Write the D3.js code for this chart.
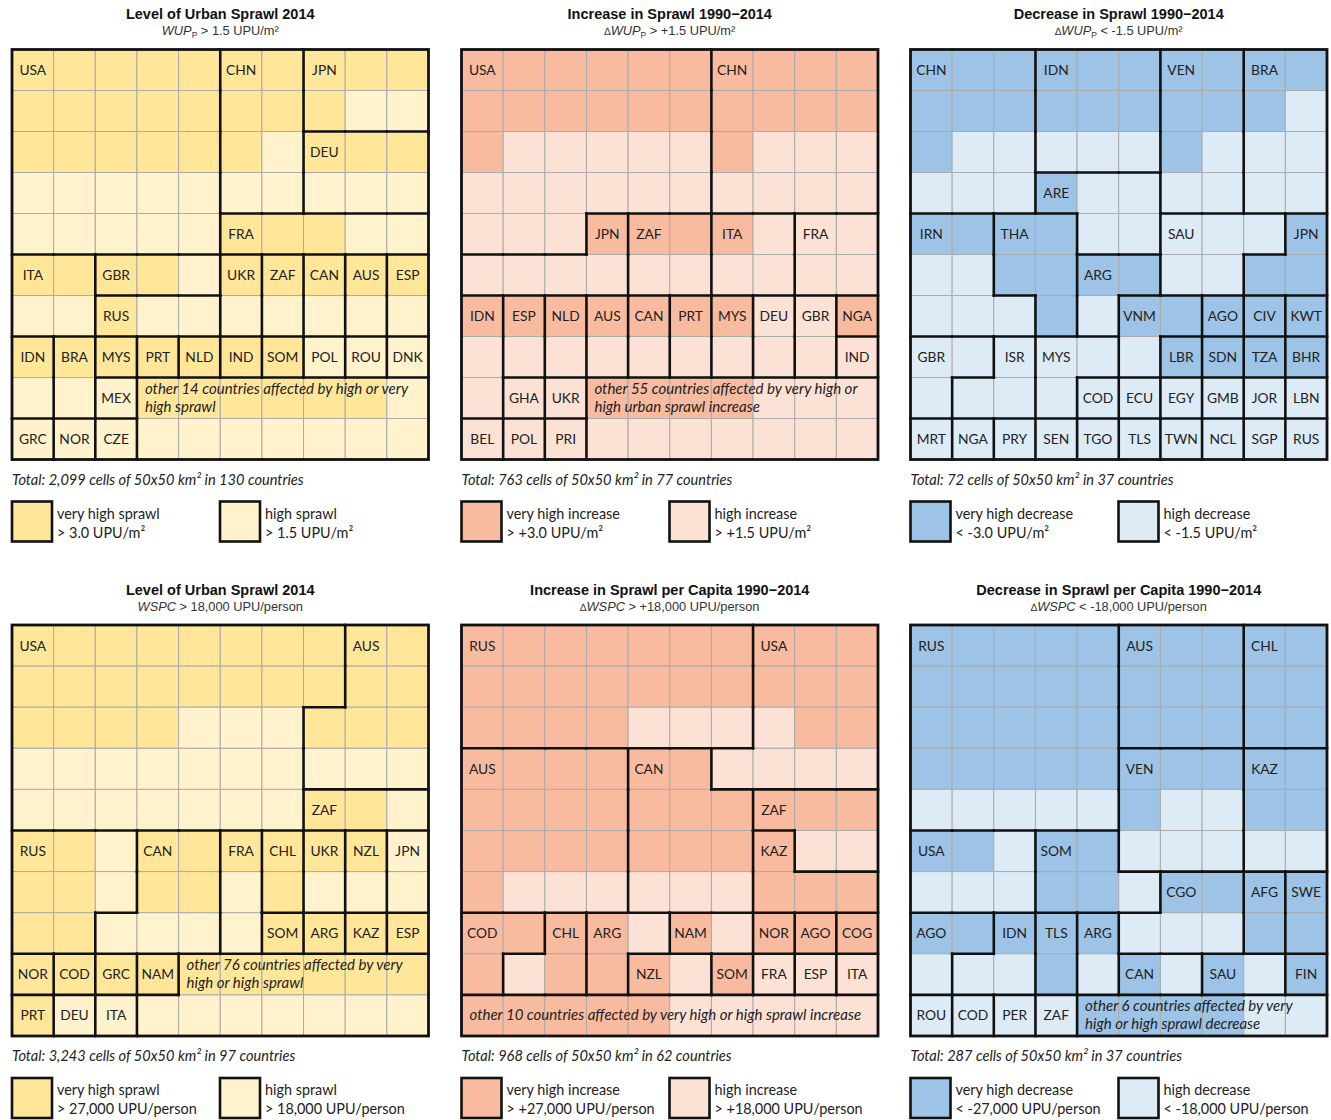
<!DOCTYPE html>
<html>
<head>
<meta charset="utf-8">
<script src="https://cdn.jsdelivr.net/npm/d3@7"></script>
<style>
  body { margin: 0; background: #fff; }
</style>
</head>
<body>
<div id="chart"></div>
<script>
// six 10x10 waffle grids: urban sprawl level / increase / decrease
// each grid cell carries a country code and a level (V = very high, H = high)

const codesWUP = [
  "USA USA USA USA USA CHN CHN JPN JPN JPN",
  "USA USA USA USA USA CHN CHN JPN JPN JPN",
  "USA USA USA USA USA CHN CHN DEU DEU DEU",
  "USA USA USA USA USA CHN CHN DEU DEU DEU",
  "USA USA USA USA USA FRA FRA FRA FRA FRA",
  "ITA ITA GBR GBR GBR UKR ZAF CAN AUS ESP",
  "ITA ITA RUS RUS RUS UKR ZAF CAN AUS ESP",
  "IDN BRA MYS PRT NLD IND SOM POL ROU DNK",
  "IDN BRA MEX OTH OTH OTH OTH OTH OTH OTH",
  "GRC NOR CZE OTH OTH OTH OTH OTH OTH OTH"
];
const levelsWUP = [
  "VVVVVVVVVV", "VVVVVVVVHH", "VVVVVVHVVV", "HHHHHHHHHH", "HHHHHVVVHH",
  "VVVVHVVVVV", "HHVHHHHHHH", "VVVVVVVHHH", "HHHVVVVVVH", "HHHHHHHHHH"
];

const codesIncWUP = [
  "USA USA USA USA USA USA CHN CHN CHN CHN",
  "USA USA USA USA USA USA CHN CHN CHN CHN",
  "USA USA USA USA USA USA CHN CHN CHN CHN",
  "USA USA USA USA USA USA CHN CHN CHN CHN",
  "USA USA USA JPN ZAF ZAF ITA ITA FRA FRA",
  "JPN JPN JPN JPN ZAF ZAF ITA ITA FRA FRA",
  "IDN ESP NLD AUS CAN PRT MYS DEU GBR NGA",
  "IDN ESP NLD AUS CAN PRT MYS DEU GBR IND",
  "IDN GHA UKR OTH OTH OTH OTH OTH OTH OTH",
  "BEL POL PRI OTH OTH OTH OTH OTH OTH OTH"
];
const levelsIncWUP = [
  "VVVVVVVVVV", "VVVVVVVVVV", "VHHHHHVHHH", "HHHHHHHHHH", "HHHVVVVHHH",
  "HHHHHHHHHH", "VVVVVVVHHV", "HHHHHHHHHH", "HHHVVVVHHH", "HHHHHHHHHH"
];

const codesDecWUP = [
  "CHN CHN CHN IDN IDN IDN VEN VEN BRA BRA",
  "CHN CHN CHN IDN IDN IDN VEN VEN BRA BRA",
  "CHN CHN CHN IDN IDN IDN VEN VEN BRA BRA",
  "CHN CHN CHN ARE ARE ARE VEN VEN BRA BRA",
  "IRN IRN THA THA ARE ARE SAU SAU SAU JPN",
  "IRN IRN THA THA ARG ARG SAU SAU JPN JPN",
  "IRN IRN IRN THA ARG VNM VNM AGO CIV KWT",
  "GBR GBR ISR MYS MYS VNM LBR SDN TZA BHR",
  "GBR ISR ISR MYS COD ECU EGY GMB JOR LBN",
  "MRT NGA PRY SEN TGO TLS TWN NCL SGP RUS"
];
const levelsDecWUP = [
  "VVVVVVVVVV", "VVVVVVVVVH", "VHHHHHVHHH", "HHHVHHHHHH", "VVVVHHHHHV",
  "HHVVVVHHVV", "HHHVHVVVVV", "HHHHHHVVVV", "HHHHHHHHHH", "HHHHHHHHHH"
];

const codesWSPC = [
  "USA USA USA USA USA USA USA USA AUS AUS",
  "USA USA USA USA USA USA USA USA AUS AUS",
  "USA USA USA USA USA USA USA AUS AUS AUS",
  "USA USA USA USA USA USA USA AUS AUS AUS",
  "USA USA USA USA USA USA USA ZAF ZAF ZAF",
  "RUS RUS RUS CAN CAN FRA CHL UKR NZL JPN",
  "RUS RUS RUS CAN CAN FRA CHL UKR NZL JPN",
  "RUS RUS CAN CAN CAN FRA SOM ARG KAZ ESP",
  "NOR COD GRC NAM OTH OTH OTH OTH OTH OTH",
  "PRT DEU ITA OTH OTH OTH OTH OTH OTH OTH"
];
const levelsWSPC = [
  "VVVVVVVVVV", "VVVVVVVVVV", "VVVVHHHVVV", "HHHHHHHHHH", "HHHHHHHVVH",
  "VVHVVVVVVH", "VVHVVHVHHH", "VVHHHHVVVV", "VVVVVVVVVV", "VHHHHHHHHH"
];

const codesIncWSPC = [
  "RUS RUS RUS RUS RUS RUS RUS USA USA USA",
  "RUS RUS RUS RUS RUS RUS RUS USA USA USA",
  "RUS RUS RUS RUS RUS RUS RUS USA USA USA",
  "AUS AUS AUS AUS CAN CAN USA USA USA USA",
  "AUS AUS AUS AUS CAN CAN CAN ZAF ZAF ZAF",
  "AUS AUS AUS AUS CAN CAN CAN KAZ ZAF ZAF",
  "AUS AUS AUS AUS CAN CAN CAN KAZ KAZ KAZ",
  "COD COD CHL ARG ARG NAM NAM NOR AGO COG",
  "COD CHL CHL ARG NZL NZL SOM FRA ESP ITA",
  "OTH OTH OTH OTH OTH OTH OTH OTH OTH OTH"
];
const levelsIncWSPC = [
  "VVVVVVVVVV", "VVVVVVVVVV", "VVVVHHHHVV", "VVVVVVHHHH", "VVVVVVVVVV",
  "VVVVVVVVHH", "VHHHHHHVVV", "VVVVHVHVVV", "VHVVVHVHHH", "VVVVVHHHHH"
];

const codesDecWSPC = [
  "RUS RUS RUS RUS RUS AUS AUS AUS CHL CHL",
  "RUS RUS RUS RUS RUS AUS AUS AUS CHL CHL",
  "RUS RUS RUS RUS RUS AUS AUS AUS CHL CHL",
  "RUS RUS RUS RUS RUS VEN VEN VEN KAZ KAZ",
  "RUS RUS RUS RUS RUS VEN VEN VEN KAZ KAZ",
  "USA USA USA SOM SOM VEN VEN VEN KAZ KAZ",
  "USA USA USA SOM SOM SOM CGO CGO AFG SWE",
  "AGO AGO IDN TLS ARG CGO CGO CGO AFG SWE",
  "AGO IDN IDN TLS ARG CAN CAN SAU SAU FIN",
  "ROU COD PER ZAF OTH OTH OTH OTH OTH OTH"
];
const levelsDecWSPC = [
  "VVVVVVVVVV", "VVVVVVVVVV", "VVVVVVVVVV", "VVVVVVVVVV", "HHHHHVHHVV",
  "VVHVVHHHHH", "HHHVVHVVVV", "VVVVVHHHVV", "HHHVHVHVHV", "HHHHVVVVHH"
];

const titles = [
  "Level of Urban Sprawl 2014", "Increase in Sprawl 1990\u22122014", "Decrease in Sprawl 1990\u22122014",
  "Level of Urban Sprawl 2014", "Increase in Sprawl per Capita 1990\u22122014", "Decrease in Sprawl per Capita 1990\u22122014"
];
// subtitle parts: delta sign, italic metric, subscript, rest
const subtitles = [
  ["", "WUP", "P", " > 1.5 UPU/m\u00b2"],
  ["\u2206", "WUP", "P", " > +1.5 UPU/m\u00b2"],
  ["\u2206", "WUP", "P", " < -1.5 UPU/m\u00b2"],
  ["", "WSPC", "", " > 18,000 UPU/person"],
  ["\u2206", "WSPC", "", " > +18,000 UPU/person"],
  ["\u2206", "WSPC", "", " < -18,000 UPU/person"]
];
const otherLabels = [
  ["other 14 countries affected by high or very", "high sprawl"],
  ["other 55 countries affected by very high or", "high urban sprawl increase"],
  [],
  ["other 76 countries affected by very", "high or high sprawl"],
  ["other 10 countries affected by very high or high sprawl increase"],
  ["other 6 countries affected by very", "high or high sprawl decrease"]
];
const totals = [
  "Total: 2,099 cells of 50x50 km\u00b2 in 130 countries",
  "Total: 763 cells of 50x50 km\u00b2 in 77 countries",
  "Total: 72 cells of 50x50 km\u00b2 in 37 countries",
  "Total: 3,243 cells of 50x50 km\u00b2 in 97 countries",
  "Total: 968 cells of 50x50 km\u00b2 in 62 countries",
  "Total: 287 cells of 50x50 km\u00b2 in 37 countries"
];
const legendVery = [
  ["very high sprawl", "> 3.0 UPU/m\u00b2"],
  ["very high increase", "> +3.0 UPU/m\u00b2"],
  ["very high decrease", "< -3.0 UPU/m\u00b2"],
  ["very high sprawl", "> 27,000 UPU/person"],
  ["very high increase", "> +27,000 UPU/person"],
  ["very high decrease", "< -27,000 UPU/person"]
];
const legendHigh = [
  ["high sprawl", "> 1.5 UPU/m\u00b2"],
  ["high increase", "> +1.5 UPU/m\u00b2"],
  ["high decrease", "< -1.5 UPU/m\u00b2"],
  ["high sprawl", "> 18,000 UPU/person"],
  ["high increase", "> +18,000 UPU/person"],
  ["high decrease", "< -18,000 UPU/person"]
];

const yellow = ["#FFE699", "#FFF2CC"];
const salmon = ["#F8BBA0", "#FCE1D5"];
const blue = ["#9DC3E6", "#DDEBF7"];

const allCodes = [codesWUP, codesIncWUP, codesDecWUP, codesWSPC, codesIncWSPC, codesDecWSPC];
const allLevels = [levelsWUP, levelsIncWUP, levelsDecWUP, levelsWSPC, levelsIncWSPC, levelsDecWSPC];
const palettes = [yellow, salmon, blue, yellow, salmon, blue];

// grid boxes on the page
const layout = [
  {x0: 12, x1: 428.5, y0: 49.5, y1: 459.5},
  {x0: 461.5, x1: 878, y0: 49.5, y1: 459.5},
  {x0: 910.5, x1: 1327, y0: 49.5, y1: 459.5},
  {x0: 12, x1: 428.5, y0: 625, y1: 1036},
  {x0: 461.5, x1: 878, y0: 625, y1: 1036},
  {x0: 910.5, x1: 1327, y0: 625, y1: 1036}
];

const labelFont = "Lato, 'Open Sans', sans-serif";
const titleFont = "'Liberation Sans', Arial, sans-serif";

const svg = d3.select("#chart").append("svg")
  .attr("width", 1331)
  .attr("height", 1120);

function drawPanel(i) {
  let L = layout[i];
  let g = svg.append("g");
  let grid = allCodes[i].map(r => r.split(" "));
  let levels = allLevels[i];

  let x = d3.scaleBand().domain(d3.range(10)).range([L.x0, L.x1]);
  let y = d3.scaleBand().domain(d3.range(10)).range([L.y0, L.y1]);
  let color = d3.scaleOrdinal().domain(["V", "H"]).range(palettes[i]);
  let bw = x.bandwidth(), bh = y.bandwidth();

  let cells = [];
  grid.forEach((row, r) => row.forEach((code, c) => {
    cells.push({r: r, c: c, code: code, level: levels[r][c]});
  }));

  g.selectAll("rect.cell")
    .data(cells)
    .join("rect")
    .attr("class", "cell")
    .attr("x", d => x(d.c))
    .attr("y", d => y(d.r))
    .attr("width", bw)
    .attr("height", bh)
    .attr("fill", d => color(d.level))
    .attr("stroke", "#ABABAB")
    .attr("stroke-width", 1);

  // thick lines wherever the country changes between neighbours
  let segs = [];
  cells.forEach(d => {
    if (d.c < 9 && grid[d.r][d.c + 1] !== d.code) {
      segs.push([x(d.c) + bw, y(d.r), x(d.c) + bw, y(d.r) + bh]);
    }
    if (d.r < 9 && grid[d.r + 1][d.c] !== d.code) {
      segs.push([x(d.c), y(d.r) + bh, x(d.c) + bw, y(d.r) + bh]);
    }
  });

  g.selectAll("line.border")
    .data(segs)
    .join("line")
    .attr("class", "border")
    .attr("x1", d => d[0]).attr("y1", d => d[1])
    .attr("x2", d => d[2]).attr("y2", d => d[3])
    .attr("stroke", "#111")
    .attr("stroke-width", 2.6)
    .attr("stroke-linecap", "square");

  g.append("rect")
    .attr("x", L.x0).attr("y", L.y0)
    .attr("width", L.x1 - L.x0).attr("height", L.y1 - L.y0)
    .attr("fill", "none")
    .attr("stroke", "#111")
    .attr("stroke-width", 2.8);

  // country labels on the first cell of each country
  let seen = new Set();
  let firsts = cells.filter(d => {
    if (seen.has(d.code)) return false;
    seen.add(d.code);
    return true;
  });

  g.selectAll("text.country")
    .data(firsts.filter(d => d.code !== "OTH"))
    .join("text")
    .attr("class", "country")
    .attr("x", d => x(d.c) + bw / 2)
    .attr("y", d => y(d.r) + bh / 2 + 5)
    .attr("text-anchor", "middle")
    .style("font-family", labelFont)
    .style("font-size", "13.8px")
    .style("fill", "#222")
    .text(d => d.code);

  let other = firsts.find(d => d.code === "OTH");
  if (other) {
    let lines = otherLabels[i];
    let t = g.append("text")
      .style("font-family", labelFont)
      .style("font-style", "italic")
      .style("font-size", "15px")
      .style("fill", "#222");
    lines.forEach((line, k) => {
      let base = lines.length === 1 ? y(other.r) + bh / 2 + 5 : y(other.r) + 16.5 + k * 17.5;
      t.append("tspan").attr("x", x(other.c) + 8).attr("y", base).text(line);
    });
  }

  // title and subtitle
  let cx = (L.x0 + L.x1) / 2;
  g.append("text")
    .attr("x", cx)
    .attr("y", L.y0 - 30.5)
    .attr("text-anchor", "middle")
    .style("font-family", titleFont)
    .style("font-weight", "bold")
    .style("font-size", "14.5px")
    .style("fill", "#111")
    .text(titles[i]);

  let s = subtitles[i];
  let sub = g.append("text")
    .attr("x", cx)
    .attr("y", L.y0 - 14.5)
    .attr("text-anchor", "middle")
    .style("font-family", titleFont)
    .style("font-size", "12.8px")
    .style("fill", "#333");
  if (s[0]) sub.append("tspan").style("font-size", "10.5px").text(s[0]);
  sub.append("tspan").style("font-style", "italic").text(s[1]);
  if (s[2]) {
    sub.append("tspan").style("font-size", "8.5px").attr("dy", 3).text(s[2]);
    sub.append("tspan").attr("dy", -3).text(s[3]);
  } else {
    sub.append("tspan").text(s[3]);
  }

  // total and legend
  g.append("text")
    .attr("x", L.x0)
    .attr("y", L.y1 + 25)
    .style("font-family", labelFont)
    .style("font-style", "italic")
    .style("font-size", "14.6px")
    .style("fill", "#222")
    .text(totals[i]);

  let items = [
    {level: "V", text: legendVery[i], dx: 0},
    {level: "H", text: legendHigh[i], dx: 208}
  ];
  items.forEach(it => {
    g.append("rect")
      .attr("x", L.x0 + it.dx)
      .attr("y", L.y1 + 42)
      .attr("width", 40)
      .attr("height", 40)
      .attr("fill", color(it.level))
      .attr("stroke", "#111")
      .attr("stroke-width", 2.6);
    let lt = g.append("text")
      .style("font-family", labelFont)
      .style("font-size", "14.4px")
      .style("fill", "#222");
    it.text.forEach((line, k) => {
      lt.append("tspan")
        .attr("x", L.x0 + it.dx + 45)
        .attr("y", L.y1 + 59 + k * 19)
        .text(line);
    });
  });
}

d3.range(6).forEach(drawPanel);
</script>
</body>
</html>
